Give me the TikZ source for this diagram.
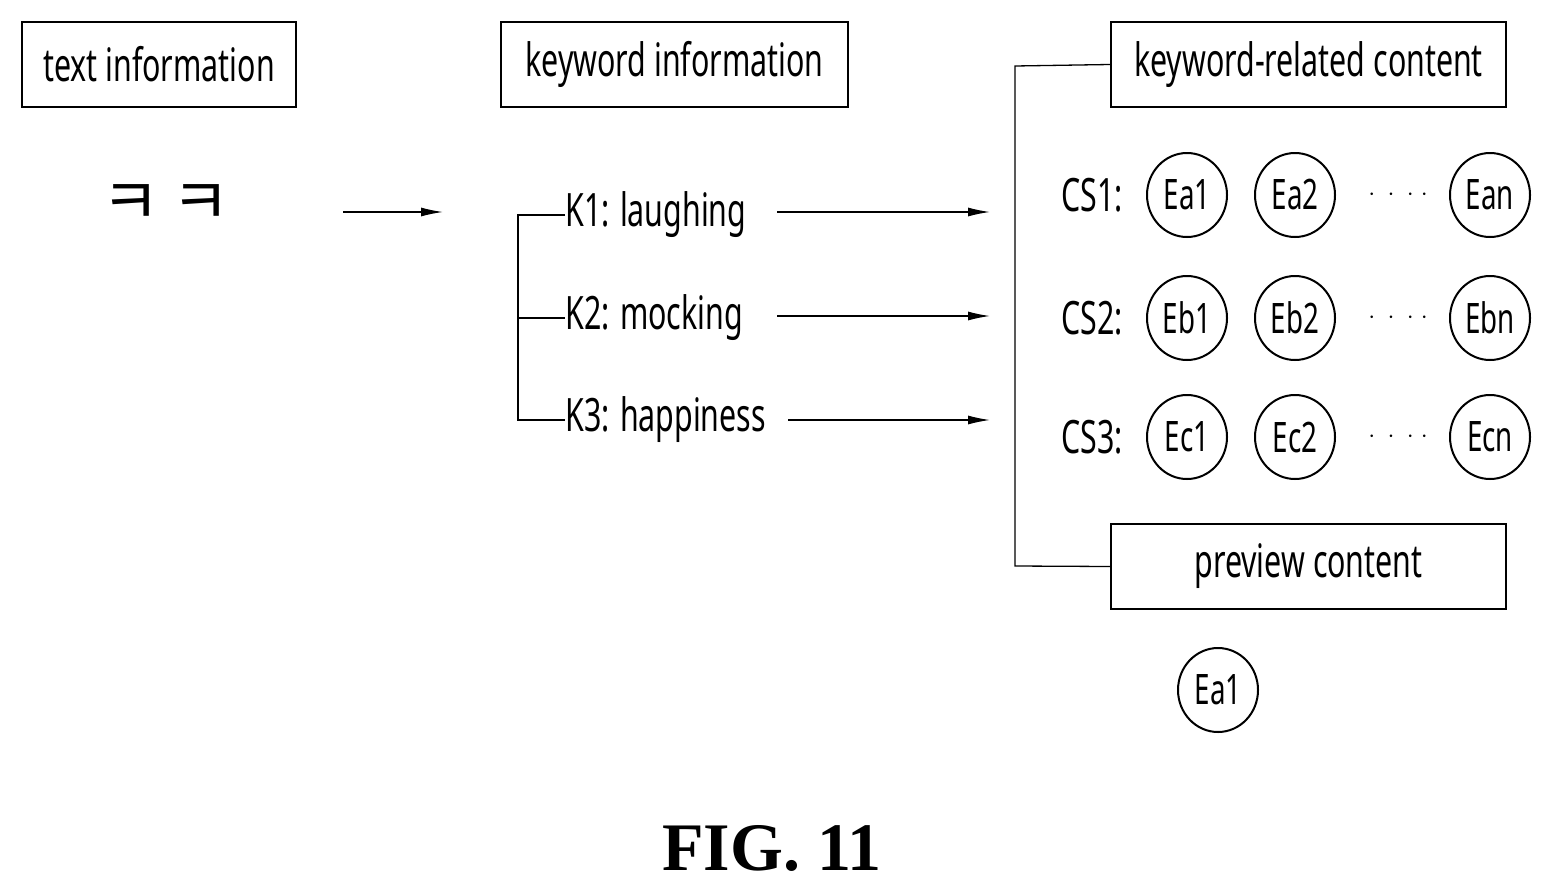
\documentclass[tikz,border=0pt]{standalone}
\usepackage{fontspec}
\setmainfont[FakeStretch=0.66]{Noto Sans}
\newfontfamily\kr{Noto Sans CJK KR}
\newfontfamily\figf{Liberation Serif}
\usetikzlibrary{arrows.meta,shapes.geometric}
\begin{document}
\begin{tikzpicture}[x=1pt,y=-1pt,
  box/.style={draw,line width=2.5pt,minimum height=85pt,inner sep=0pt},
  lbl/.style={font=\fontsize{46}{50}\selectfont,inner sep=0pt},
  circ/.style={draw,line width=2pt,ellipse,minimum width=80pt,minimum height=84pt,inner sep=0pt,font=\fontsize{42}{46}\selectfont},
  ln/.style={line width=1.3pt},
  arr/.style={ln,-{Latex[length=22pt,width=9pt]}}]
\useasboundingbox (0,0) rectangle (1554,894);
\node[box,minimum width=274pt,lbl] (ti) at (159,64.5) {text information};
\node[box,minimum width=347pt,lbl] (ki) at (674.5,64.5) {keyword information};
\node[box,minimum width=395pt,lbl] (kr) at (1308.5,64.5) {keyword-related content};
\node[box,minimum width=395pt,lbl] (pc) at (1308.5,566.5) {preview content};
\node[inner sep=0pt,font=\kr\fontsize{64}{70}\selectfont] (kk) at (166,205) {ㅋ\,ㅋ};
\coordinate (a1) at (343,212); \coordinate (a2) at (443,212);
\draw[arr] (a1) -- (a2);
\node[lbl,anchor=west] (k1) at (565,215) {K1: laughing};
\node[lbl,anchor=west] (k2) at (565,318) {K2: mocking};
\node[lbl,anchor=west] (k3) at (565,420) {K3: happiness};
\coordinate (b1) at (518,215); \coordinate (b3) at (518,420); \coordinate (b2) at (518,318);
\draw[ln] (k1.west) -- (b1) -- (b3) -- (k3.west);
\draw[ln] (b2) -- (k2.west);
\coordinate (e1) at (990,212); \coordinate (e2) at (990,316); \coordinate (e3) at (990,420);
\coordinate (s1) at (777,212); \coordinate (s2) at (777,316); \coordinate (s3) at (788,420);
\draw[arr] (s1) -- (e1);
\draw[arr] (s2) -- (e2);
\draw[arr] (s3) -- (e3);
\coordinate (r1) at (1015,66); \coordinate (r2) at (1015,566);
\draw[ln] (kr.west) -- (r1) -- (r2) -- (pc.west);
\foreach \r/\y/\l in {1/195/a,2/318/b,3/437/c}{
  \node[lbl] (cs\r) at (1092,\y) {CS\r:};
  \node[circ] (E\l1) at (1187,\y) {E\l1};
  \node[circ] (E\l2) at (1295,\y) {E\l2};
  \node[circ] (E\l n) at (1490,\y) {E\l n};
  \node[lbl] (d\r) at (1398,\y) {$\cdot\;\cdot\;\cdot\;\cdot$};
}
\node[circ] (pe) at (1218,690) {Ea1};
\node[font=\figf\bfseries\fontsize{68}{72}\selectfont] (fig) at (772,848) {FIG. 11};
\end{tikzpicture}
\end{document}
